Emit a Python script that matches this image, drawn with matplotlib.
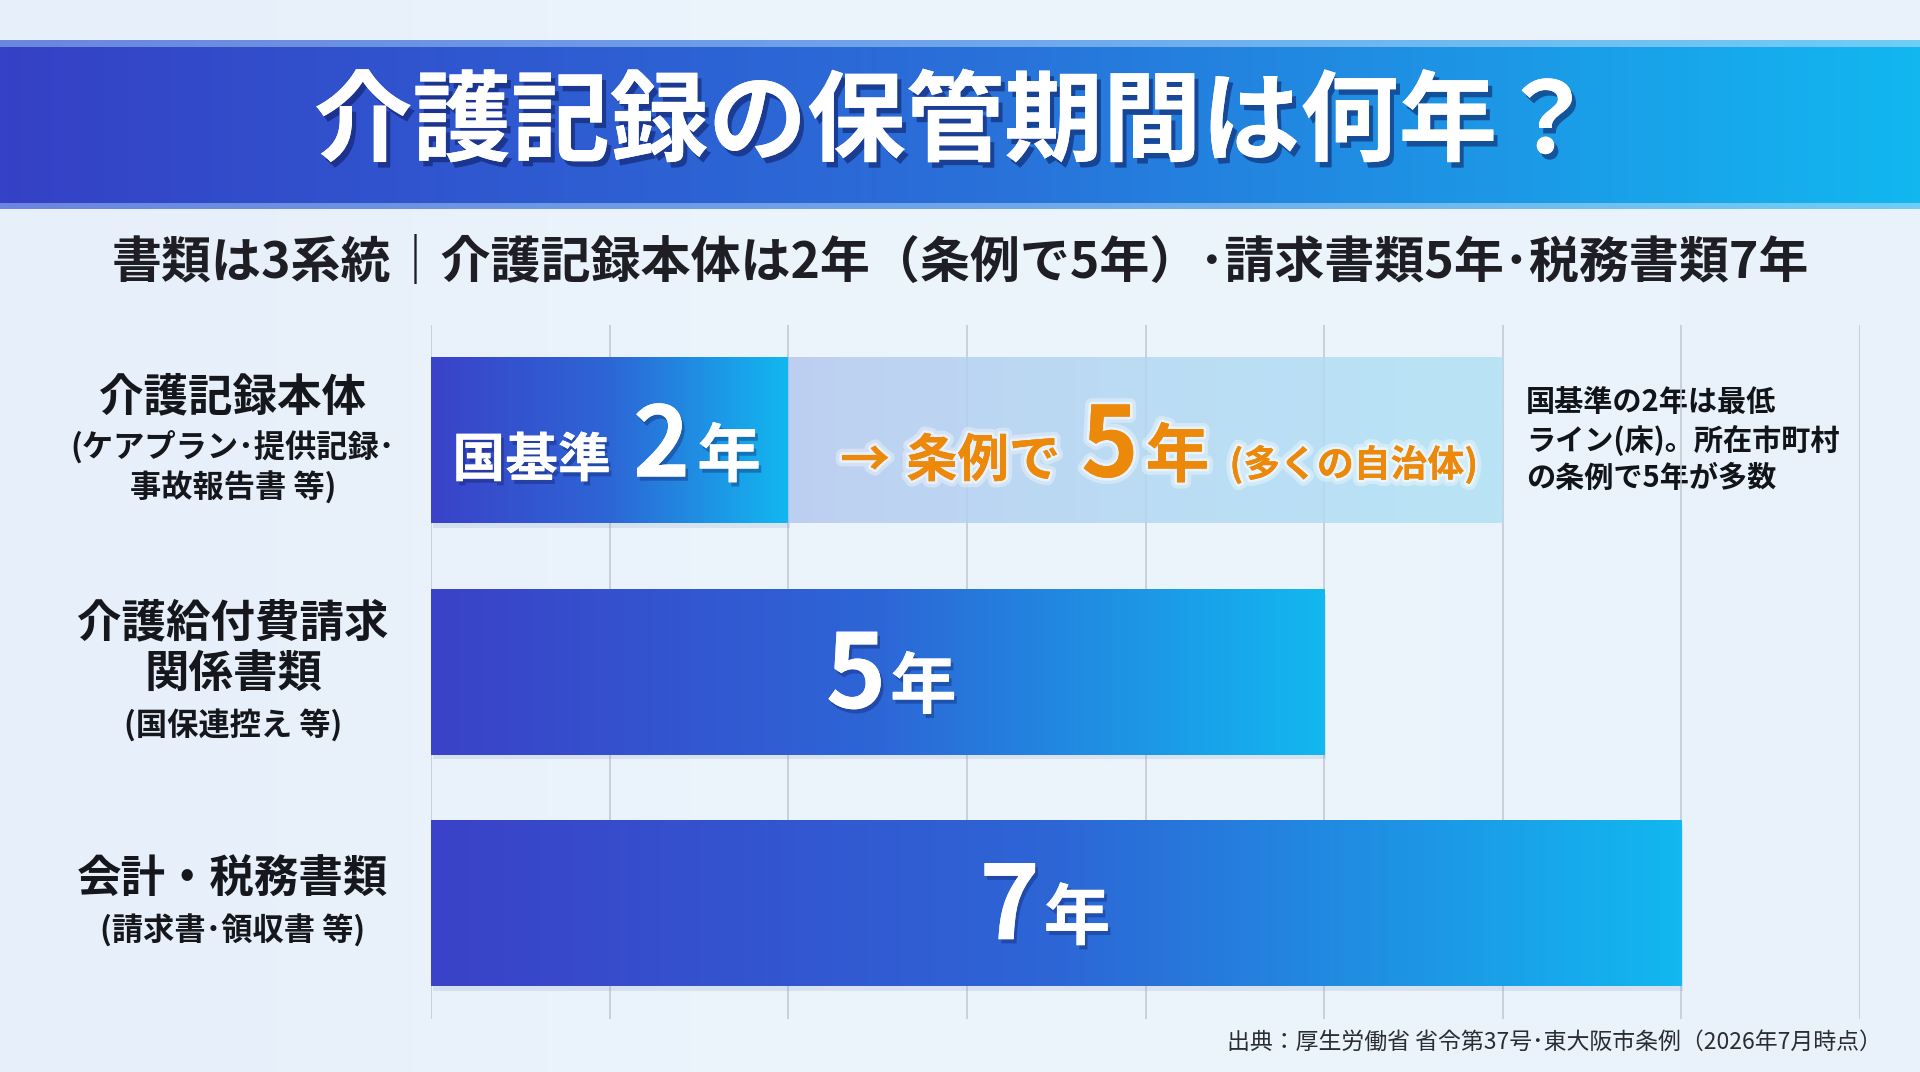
import matplotlib
matplotlib.use("Agg")
import matplotlib.pyplot as plt
import numpy as np
from matplotlib import patheffects as pe
from matplotlib import transforms
from matplotlib.colors import LinearSegmentedColormap

plt.rcParams['font.family'] = ['Noto Sans CJK JP', 'DejaVu Sans']

# --- datos del gráfico ---
titulo = "介護記録の保管期間は何年？"
subtitulo = "書類は3系統｜介護記録本体は2年（条例で5年）･請求書類5年･税務書類7年"
etiquetas_main = [["介護記録本体"], ["介護給付費請求", "関係書類"], ["会計・税務書類"]]
etiquetas_sub = [["(ケアプラン･提供記録･", "事故報告書 等)"], ["(国保連控え 等)"], ["(請求書･領収書 等)"]]
anios = [2, 5, 7]
anios_jorei = 5          # 条例で上乗せ (介護記録本体)
fin_banda_jorei = 6      # la banda clara llega hasta aquí en el original
ticks_x = list(range(0, 9))
nota = ["国基準の2年は最低", "ライン(床)。所在市町村", "の条例で5年が多数"]
fuente = "出典：厚生労働省 省令第37号･東大阪市条例（2026年7月時点）"

W, H = 1920, 1072
fig = plt.figure(figsize=(W / 100, H / 100), dpi=100)

# fondo + banda del título (coordenadas en píxeles)
bg = fig.add_axes([0, 0, 1, 1], zorder=-5)
bg.axis("off")
grad_bg = np.linspace(0, 1, 256).reshape(1, -1)
cmap_bg = LinearSegmentedColormap.from_list("bg", ["#e6effa", "#edf5fc", "#e9f2fb"])
bg.imshow(grad_bg, cmap=cmap_bg, extent=(0, W, H, 0), aspect="auto")

cmap_band = LinearSegmentedColormap.from_list("band", ["#3541c6", "#2a6fd9", "#12b7f0"])
cmap_strip = LinearSegmentedColormap.from_list("strip", ["#6a86de", "#6fa6ea", "#70cdf5"])
bg.imshow(grad_bg, cmap=cmap_band, extent=(0, W, 203, 47), aspect="auto")
bg.imshow(grad_bg, cmap=cmap_strip, extent=(0, W, 47, 40), aspect="auto")
bg.imshow(grad_bg, cmap=cmap_strip, extent=(0, W, 209, 203), aspect="auto")
bg.set_xlim(0, W)
bg.set_ylim(H, 0)

sombra = [pe.withSimplePatchShadow(offset=(3, -4), shadow_rgbFace="#0d1a5c", alpha=0.55), pe.Normal()]
bg.text(955, 124, titulo, ha="center", va="center", fontsize=71, fontweight="bold",
        color="white", path_effects=sombra)
bg.text(960, 263, subtitulo, ha="center", va="center", fontsize=36, fontweight="bold",
        color="#1e1e24")

for i, linea in enumerate(nota):
    bg.text(1526, 402 + i * 38, linea, ha="left", va="center", fontsize=21,
            fontweight="bold", color="#111418")
bg.text(1882, 1042, fuente, ha="right", va="center", fontsize=16.5, color="#2a2d33")

# --- área del gráfico ---
ax = fig.add_axes([431 / W, 53 / H, 1429 / W, 694 / H])
ax.set_facecolor("none")
for s in ax.spines.values():
    s.set_visible(False)
ax.set_xticks([])
ax.set_yticks([])

for t in ticks_x:
    ax.axvline(t, color="#c3cad6", lw=1.2, zorder=0)

h = 0.716
cmap_bar = LinearSegmentedColormap.from_list("bar", ["#3a42c8", "#2d66d6", "#12b8f0"])
cmap_light = LinearSegmentedColormap.from_list("light", ["#b6c9f0", "#b2d8f3", "#b0e2f6"])

for i, v in enumerate(anios):
    # sombra suave bajo la barra
    ax.barh(i + 0.02, v, height=h, left=0.01, color="#7f95c0", alpha=0.18, zorder=1)
    ax.imshow(grad_bg, cmap=cmap_bar, extent=(0, v, i + h / 2, i - h / 2),
              aspect="auto", zorder=2)
# banda clara del 条例
ax.imshow(grad_bg, cmap=cmap_light, extent=(anios[0], fin_banda_jorei, h / 2, -h / 2),
          aspect="auto", zorder=2, alpha=0.85)

ax.set_xlim(0, 8)
ax.set_ylim(2.5, -0.5)

# textos dentro de las barras
sombra_txt = [pe.withSimplePatchShadow(offset=(2, -3), shadow_rgbFace="#0d1a5c", alpha=0.35), pe.Normal()]
brillo = [pe.withStroke(linewidth=9, foreground="white", alpha=0.35),
          pe.withStroke(linewidth=4, foreground="white", alpha=0.5), pe.Normal()]
base = 0.155
naranja = "#ec890b"

ax.text(0.12, base, "国基準", fontsize=38, fontweight="bold", color="white",
        va="baseline", ha="left", path_effects=sombra_txt, zorder=5)
ax.text(1.13, base, str(anios[0]), fontsize=70, fontweight="bold", color="white",
        va="baseline", ha="left", path_effects=sombra_txt, zorder=5)
ax.text(1.49, base, "年", fontsize=46, fontweight="bold", color="white",
        va="baseline", ha="left", path_effects=sombra_txt, zorder=5)

ax.text(2.29, base, "→", fontsize=36, fontweight="bold", color=naranja,
        va="baseline", ha="left", path_effects=brillo, zorder=5)
ax.text(2.66, base, "条例で", fontsize=37, fontweight="bold", color=naranja,
        va="baseline", ha="left", path_effects=brillo, zorder=5)
ax.text(3.64, base, str(anios_jorei), fontsize=70, fontweight="bold", color=naranja,
        va="baseline", ha="left", path_effects=brillo, zorder=5)
ax.text(4.0, base, "年", fontsize=46, fontweight="bold", color=naranja,
        va="baseline", ha="left", path_effects=brillo, zorder=5)
ax.text(4.47, base, "(多くの自治体)", fontsize=26.5, fontweight="bold", color=naranja,
        va="baseline", ha="left", path_effects=brillo, zorder=5)

pos_num = {1: 2.21, 2: 3.07}
for i in (1, 2):
    x0 = pos_num[i]
    ax.text(x0, i + base, str(anios[i]), fontsize=74, fontweight="bold", color="white",
            va="baseline", ha="left", path_effects=sombra_txt, zorder=5)
    ax.text(x0 + 0.36, i + base, "年", fontsize=48, fontweight="bold", color="white",
            va="baseline", ha="left", path_effects=sombra_txt, zorder=5)

# etiquetas de categoría
trans = transforms.blended_transform_factory(fig.transFigure, ax.transData)
px_unidad = 694 / 3.0
for i in range(len(anios)):
    lineas = [(t, 32, "main") for t in etiquetas_main[i]] + [(t, 22.5, "sub") for t in etiquetas_sub[i]]
    ys = [0.0]
    for k in range(1, len(lineas)):
        gap = 40 if (lineas[k][2] == "sub" and lineas[k - 1][2] == "sub") else 51
        ys.append(ys[-1] + gap)
    centro = (ys[0] + ys[-1]) / 2 - 2
    for (t, fs, tipo), yy in zip(lineas, ys):
        ax.text(233 / W, i + (yy - centro) / px_unidad, t, transform=trans, ha="center",
                va="center", fontsize=fs, fontweight="bold", color="#15171c")

fig.savefig("out.png", dpi=100)
